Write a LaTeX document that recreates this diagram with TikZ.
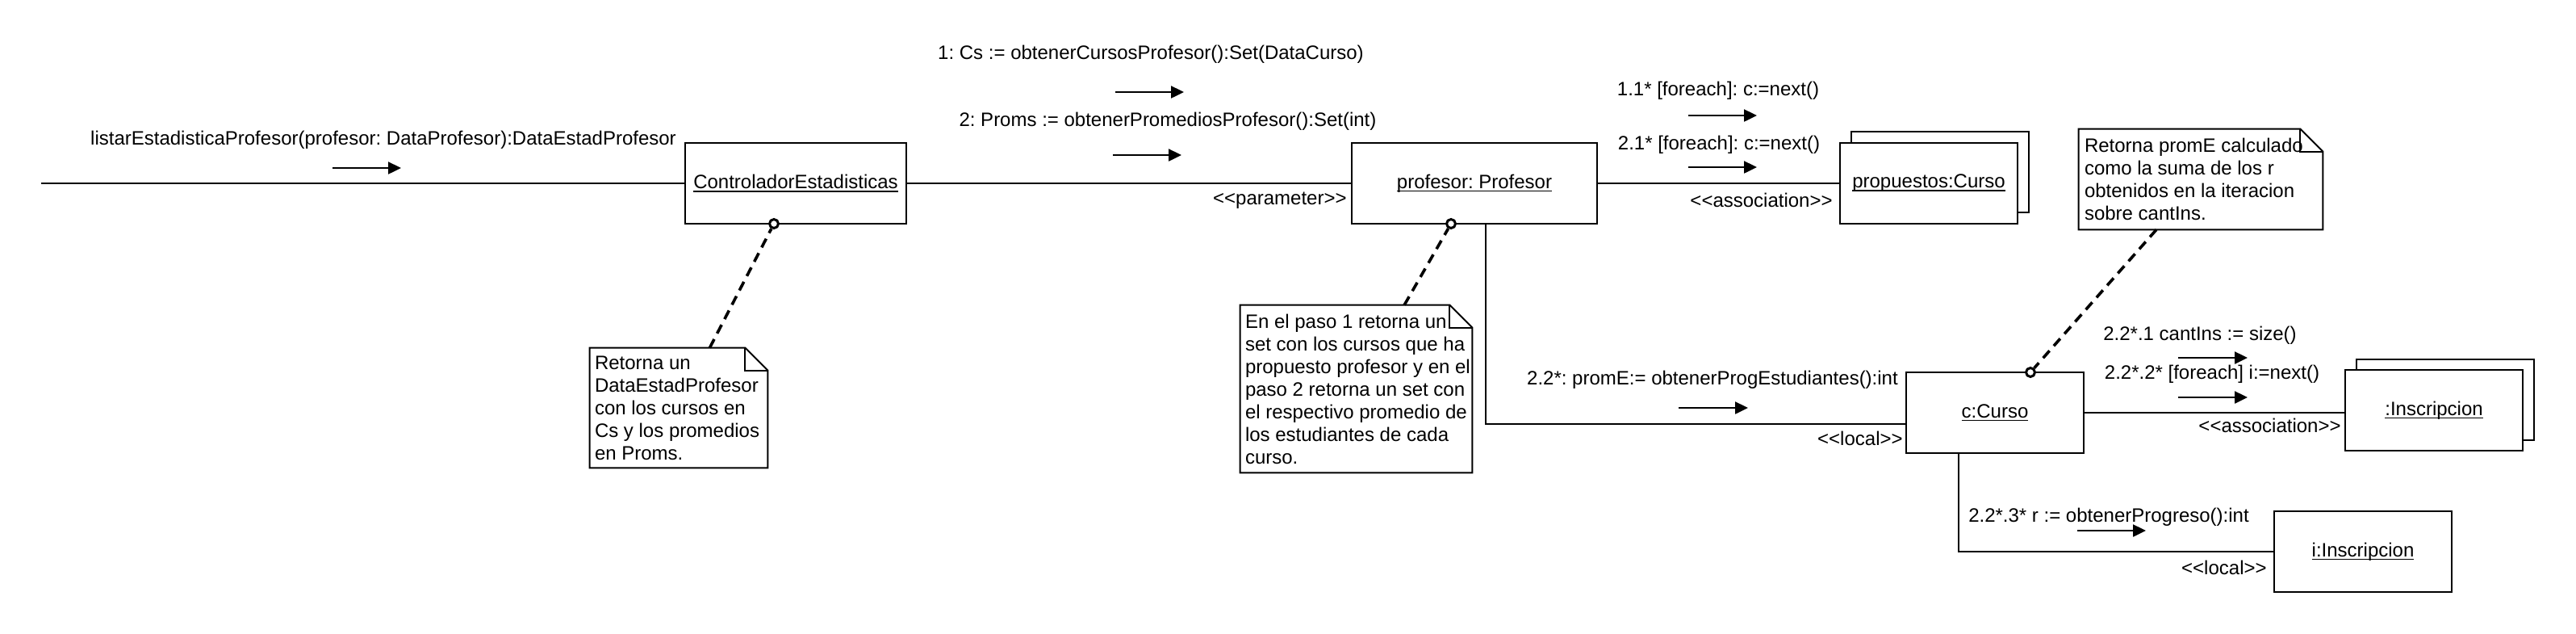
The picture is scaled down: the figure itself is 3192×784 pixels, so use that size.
\documentclass[tikz,border=0pt]{standalone}
\usepackage{fontspec}
\setmainfont{Liberation Sans}
\usetikzlibrary{arrows.meta}
\newcommand\stl{<\kern0pt<}
\newcommand\str{>\kern0pt>}
\newcommand\myul[1]{\setbox0\hbox{#1}\rlap{\rule[-2pt]{\wd0}{0.8pt}}\box0}
\newcommand\drawnote[1]{%
  \draw[line width=1pt] (#1.north west) -- ([xshift=-14pt]#1.north east) -- ([yshift=-14pt]#1.north east) -- (#1.south east) -- (#1.south west) -- cycle;
  \draw[line width=1pt] ([xshift=-14pt]#1.north east) |- ([yshift=-14pt]#1.north east);}
\begin{document}
\frenchspacing
\begin{tikzpicture}[x=0.5pt,y=-0.5pt,
  lbl/.style={inner sep=0pt, font=\fontsize{12}{14}\selectfont},
  obj/.style={draw, line width=1pt, fill=white, inner sep=0pt, minimum width=110pt, minimum height=50pt, font=\fontsize{12}{14}\selectfont},
  wire/.style={line width=1pt},
  msg/.style={line width=1.2pt, -{Triangle[length=8pt,width=7.5pt]}},
  notebox/.style={inner sep=0pt},
  notetext/.style={inner sep=0pt, anchor=west, align=left, font=\fontsize{12}{14}\selectfont},
  notelink/.style={line width=1.8pt, dash pattern=on 6pt off 4pt},
  anchorpt/.style={circle, draw, fill=white, inner sep=0pt, minimum size=5.5pt, line width=1.5pt}]

\fill[white] (0,0) rectangle (3192,784);
\useasboundingbox (0,0) rectangle (3192,784);

% objects
\node[obj, minimum width=137pt] (ctrl) at (986,227) {\myul{ControladorEstadisticas}};
\node[obj, minimum width=152pt] (prof) at (1827,227) {\myul{profesor: Profesor}};
\node[obj] (propb) at (2404,213) {};
\node[obj] (prop) at (2390,227) {\myul{propuestos:Curso}};
\node[obj] (curso) at (2472,511) {\myul{c:Curso}};
\node[obj] (inscb) at (3030,495) {};
\node[obj] (insc) at (3016,508) {\myul{:Inscripcion}};
\node[obj] (iins) at (2928,683) {\myul{i:Inscripcion}};

% links
\coordinate (start) at (51,227);
\draw[wire] (start) -- (ctrl.west);
\draw[wire] (ctrl) -- (prof);
\draw[wire] (prof) -- (prop);
\draw[wire] ([xshift=7pt]prof.south) |- ([yshift=-7pt]curso.west);
\draw[wire] (curso.east) -- (curso.east -| insc.west);
\draw[wire] ([xshift=-22.5pt]curso.south) |- (iins.west);

% link labels
\node[lbl, anchor=east] (stpar) at (1669,248) {\stl parameter\str};
\node[lbl, anchor=east] (stas1) at (2271,248) {\stl association\str};
\node[lbl, anchor=east] (stloc1) at (2358,543) {\stl local\str};
\node[lbl, anchor=east] (stas2) at (2901,527) {\stl association\str};
\node[lbl, anchor=east] (stloc2) at (2809,703) {\stl local\str};

% messages
\node[lbl] (l0) at (475,173) {listarEstadisticaProfesor(profesor: DataProfesor):DataEstadProfesor};
\draw[msg] (412,208) -- (497,208);
\node[lbl] (l1) at (1426,67) {1: Cs := obtenerCursosProfesor():Set(DataCurso)};
\draw[msg] (1382,114) -- (1467,114);
\node[lbl] (l2) at (1447,150) {2: Proms := obtenerPromediosProfesor():Set(int)};
\draw[msg] (1379,192) -- (1464,192);
\node[lbl] (l3) at (2129,112) {1.1* [foreach]: c:=next()};
\draw[msg] (2092,143) -- (2177,143);
\node[lbl] (l4) at (2130,179) {2.1* [foreach]: c:=next()};
\draw[msg] (2092,207) -- (2177,207);
\node[lbl] (l5) at (2122,470) {2.2*: promE:= obtenerProgEstudiantes():int};
\draw[msg] (2080,505) -- (2166,505);
\node[lbl] (l6) at (2726,415) {2.2*.1 cantIns := size()};
\draw[msg] (2699,443) -- (2785,443);
\node[lbl] (l7) at (2741,463) {2.2*.2* [foreach] i:=next()};
\draw[msg] (2699,492) -- (2785,492);
\node[lbl] (l8) at (2613,640) {2.2*.3* r := obtenerProgreso():int};
\draw[msg] (2574,657) -- (2659,657);

% note anchors
\node[anchorpt] (m1) at (959,277) {};
\node[anchorpt] (m2) at (1798,277) {};
\node[anchorpt] (m3) at (2516,461) {};

% notes
\node[notebox, minimum width=110pt, minimum height=74pt] (n1) at (841,505) {};
\drawnote{n1}
\node[notetext] (t1) at ([xshift=3pt]n1.west)
  {Retorna un\\DataEstadProfesor\\con los cursos en\\Cs y los promedios\\en Proms.};
\draw[notelink] (n1) -- (m1);

\node[notebox, minimum width=143.5pt, minimum height=103.5pt] (n2) at (1680.5,481.5) {};
\drawnote{n2}
\node[notetext] (t2) at ([xshift=3pt]n2.west)
  {En el paso 1 retorna un\\set con los cursos que ha\\propuesto profesor y en el\\paso 2 retorna un set con\\el respectivo promedio de\\los estudiantes de cada\\curso.};
\draw[notelink] (n2) -- (m2);

\node[notebox, minimum width=151pt, minimum height=62pt] (n3) at (2727,222) {};
\drawnote{n3}
\node[notetext] (t3) at ([xshift=3.5pt]n3.west)
  {Retorna promE calculado\\como la suma de los r\\obtenidos en la iteracion\\sobre cantIns.};
\draw[notelink] (n3) -- (m3);
\end{tikzpicture}
\end{document}
